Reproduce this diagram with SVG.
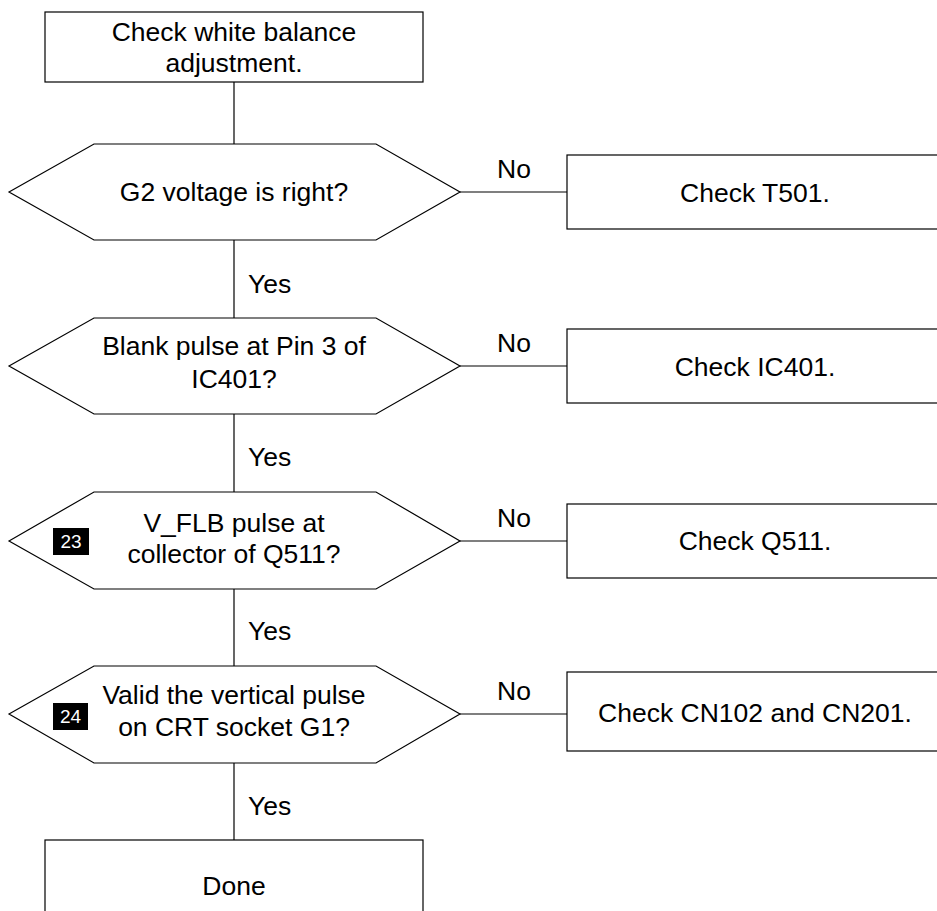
<svg xmlns="http://www.w3.org/2000/svg" width="937" height="911" viewBox="0 0 937 911">
<style>
.shape{fill:#fff;stroke:#000;stroke-width:1.2}
.conn{stroke:#000;stroke-width:1.2;fill:none}
text{font-family:"Liberation Sans",Arial,sans-serif;font-size:26.5px;fill:#000}
.c{text-anchor:middle}
.badge rect{fill:#000}
.badge text{fill:#fff;font-size:19px;text-anchor:middle}
</style>
<rect width="937" height="911" fill="#fff"/>
<g id="connectors">
<line class="conn" x1="234" y1="82" x2="234" y2="144"/>
<line class="conn" x1="234" y1="240" x2="234" y2="318"/>
<line class="conn" x1="234" y1="414" x2="234" y2="492"/>
<line class="conn" x1="234" y1="589" x2="234" y2="666"/>
<line class="conn" x1="234" y1="763" x2="234" y2="840"/>
<line class="conn" x1="460" y1="192" x2="567" y2="192"/>
<line class="conn" x1="460" y1="366" x2="567" y2="366"/>
<line class="conn" x1="460" y1="541" x2="567" y2="541"/>
<line class="conn" x1="460" y1="714" x2="567" y2="714"/>
<text x="248" y="293">Yes</text>
<text x="248" y="466">Yes</text>
<text x="248" y="640">Yes</text>
<text x="248" y="815">Yes</text>
<text class="c" x="514" y="178">No</text>
<text class="c" x="514" y="352">No</text>
<text class="c" x="514" y="527">No</text>
<text class="c" x="514" y="700">No</text>
</g>
<g id="start">
<rect class="shape" x="45" y="12" width="378" height="70"/>
<text class="c" x="234" y="41">Check white balance</text>
<text class="c" x="234" y="72">adjustment.</text>
</g>
<g id="d1">
<polygon class="shape" points="9,192 94,144 376,144 460,192 376,240 94,240"/>
<text class="c" x="234" y="201">G2 voltage is right?</text>
</g>
<g id="d2">
<polygon class="shape" points="9,366 94,318 376,318 460,366 376,414 94,414"/>
<text class="c" x="234" y="355">Blank pulse at Pin 3 of</text>
<text class="c" x="234" y="388">IC401?</text>
</g>
<g id="d3">
<polygon class="shape" points="9,541 94,492 376,492 460,541 376,589 94,589"/>
<text class="c" x="234" y="532">V_FLB pulse at</text>
<text class="c" x="234" y="563">collector of Q511?</text>
<g class="badge"><rect x="53" y="528" width="36" height="27"/><text x="71" y="548">23</text></g>
</g>
<g id="d4">
<polygon class="shape" points="9,714 94,666 376,666 460,714 376,763 94,763"/>
<text class="c" x="234" y="704">Valid the vertical pulse</text>
<text class="c" x="234" y="736">on CRT socket G1?</text>
<g class="badge"><rect x="53" y="703" width="35" height="27"/><text x="70.5" y="723">24</text></g>
</g>
<g id="r1">
<rect class="shape" x="567" y="155" width="378" height="74"/>
<text class="c" x="755" y="202">Check T501.</text>
</g>
<g id="r2">
<rect class="shape" x="567" y="329" width="378" height="74"/>
<text class="c" x="755" y="376">Check IC401.</text>
</g>
<g id="r3">
<rect class="shape" x="567" y="504" width="378" height="74"/>
<text class="c" x="755" y="550">Check Q511.</text>
</g>
<g id="r4">
<rect class="shape" x="567" y="672" width="378" height="79"/>
<text class="c" x="755" y="722">Check CN102 and CN201.</text>
</g>
<g id="done">
<rect class="shape" x="45" y="840" width="378" height="95"/>
<text class="c" x="234" y="895">Done</text>
</g>
</svg>
